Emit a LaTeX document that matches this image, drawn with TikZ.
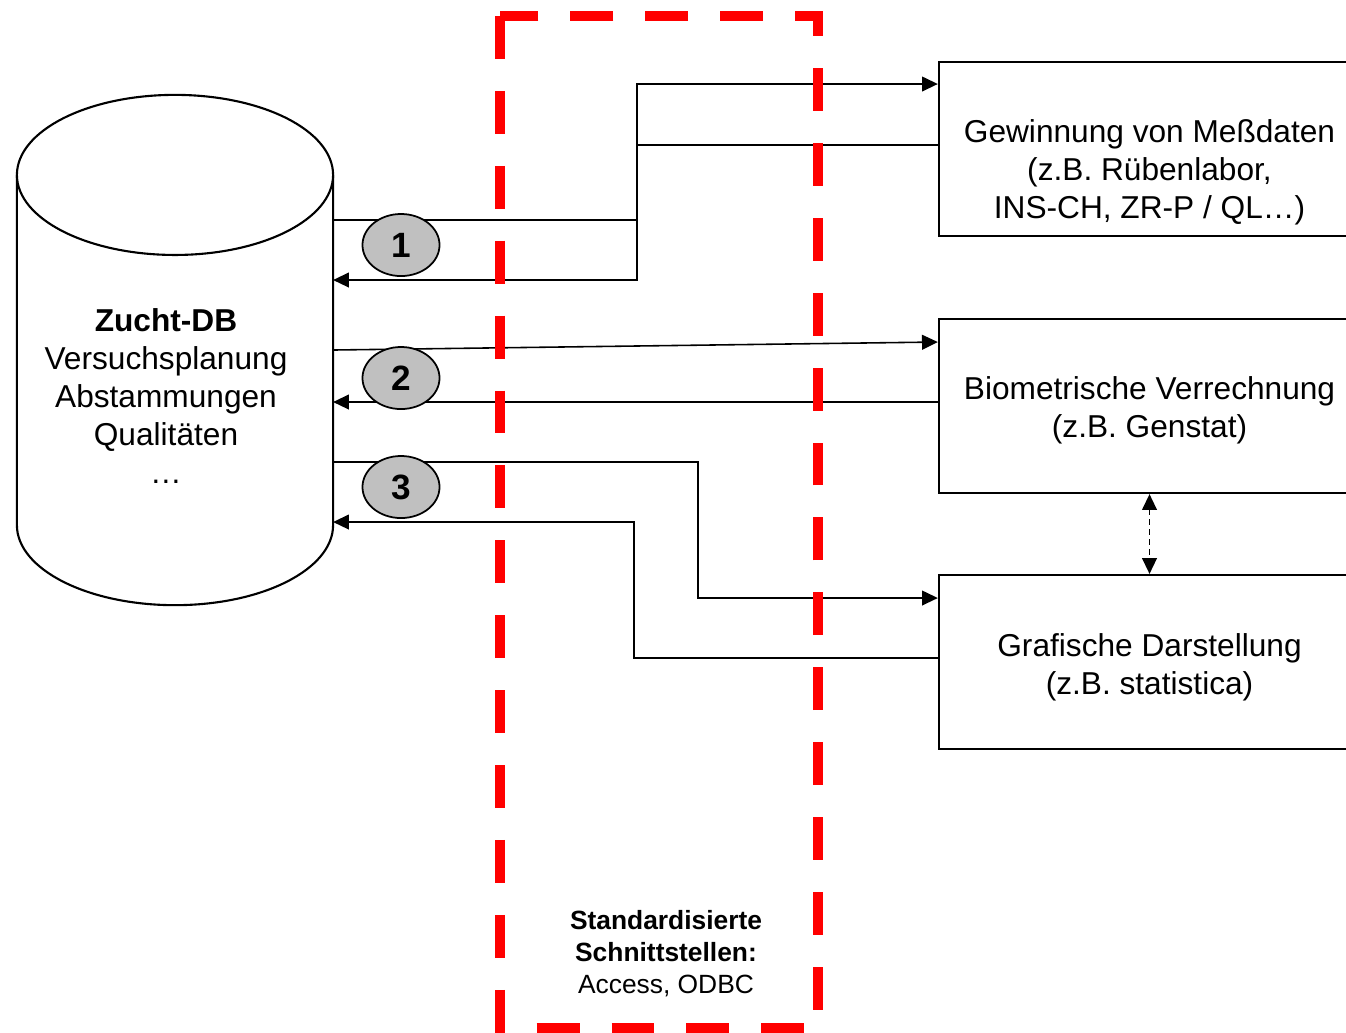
\documentclass[tikz,border=0pt]{standalone}
\usepackage{fontspec}
\setmainfont{Liberation Sans}
\usepackage{xcolor}
\usetikzlibrary{arrows.meta,shapes.geometric}
\definecolor{numgray}{RGB}{192,192,192}

\begin{document}
\begin{tikzpicture}[x=0.01cm,y=-0.01cm,
    >={Triangle[length=4.5pt,width=4.2pt]},
    box/.style={draw,line width=0.6pt,minimum width=4.21cm,minimum height=1.74cm,inner sep=0pt},
    boxtxt/.style={align=center,font=\fontsize{9}{10.8}\selectfont},
    flow/.style={->,line width=0.45pt},
    num/.style={draw,ellipse,fill=numgray,line width=0.5pt,minimum width=0.77cm,minimum height=0.62cm,inner sep=0pt,font=\fontsize{10}{12}\selectfont\bfseries}]
    \useasboundingbox (0,0) rectangle (1346,1032);

    % Database cylinder
    \node[minimum width=3.16cm,minimum height=3.5cm,inner sep=0pt,outer sep=0pt] (db) at (175,350) {};
    \draw[line width=0.6pt] (db.north west) -- (db.south west) arc[start angle=180,end angle=360,x radius=1.58cm,y radius=0.8cm] -- (db.north east);
    \draw[line width=0.6pt] (db.north) ellipse[x radius=1.58cm,y radius=0.8cm];
    \node[boxtxt] (dbtxt) at (166,396) {\textbf{Zucht-DB}\\Versuchsplanung\\Abstammungen\\Qualitäten\\…};

    % Target boxes
    \node[box] (mess) at (1149.5,149) {};
    \node[boxtxt] (messtxt) at (1149.5,172) {Gewinnung von Meßdaten\\(z.B. Rübenlabor,\\INS-CH, ZR-P / QL…)};
    \node[box] (biom) at (1149.5,406) {};
    \node[boxtxt] (biomtxt) at (1149.5,410) {Biometrische Verrechnung\\(z.B. Genstat)};
    \node[box] (graf) at (1149.5,662) {};
    \node[boxtxt] (graftxt) at (1149.5,667) {Grafische Darstellung\\(z.B. statistica)};

    % Arrows
    \draw[flow] (db.east |- 0,220) -| (637,84) -- (mess.west |- 0,84);
    \draw[flow] (mess.west |- 0,145) -| (637,280) -- (db.east |- 0,280);
    \draw[flow] (db.east |- 0,350) -- (biom.west |- 0,342);
    \draw[flow] (biom.west |- 0,402) -- (db.east |- 0,402);
    \draw[flow] (db.east |- 0,462) -| (698,598) -- (graf.west |- 0,598);
    \draw[flow] (graf.west |- 0,658) -| (634,522) -- (db.east |- 0,522);
    \draw[flow,<->,dash pattern=on 1.6pt off 1.2pt] (biom.south) -- (graf.north);

    % Interface frame
    \draw[red,line width=2.85pt,dash pattern=on 12.2pt off 9.1pt] (500,16) rectangle (818,1028);
    \node[align=center,font=\fontsize{7.5}{9.1}\selectfont] (iface) at (666,954) {\textbf{Standardisierte}\\\textbf{Schnittstellen:}\\Access, ODBC};

    % Numbers
    \node[num] (n1) at (401,245) {1};
    \node[num] (n2) at (401,378) {2};
    \node[num] (n3) at (401,487) {3};
\end{tikzpicture}
\end{document}
